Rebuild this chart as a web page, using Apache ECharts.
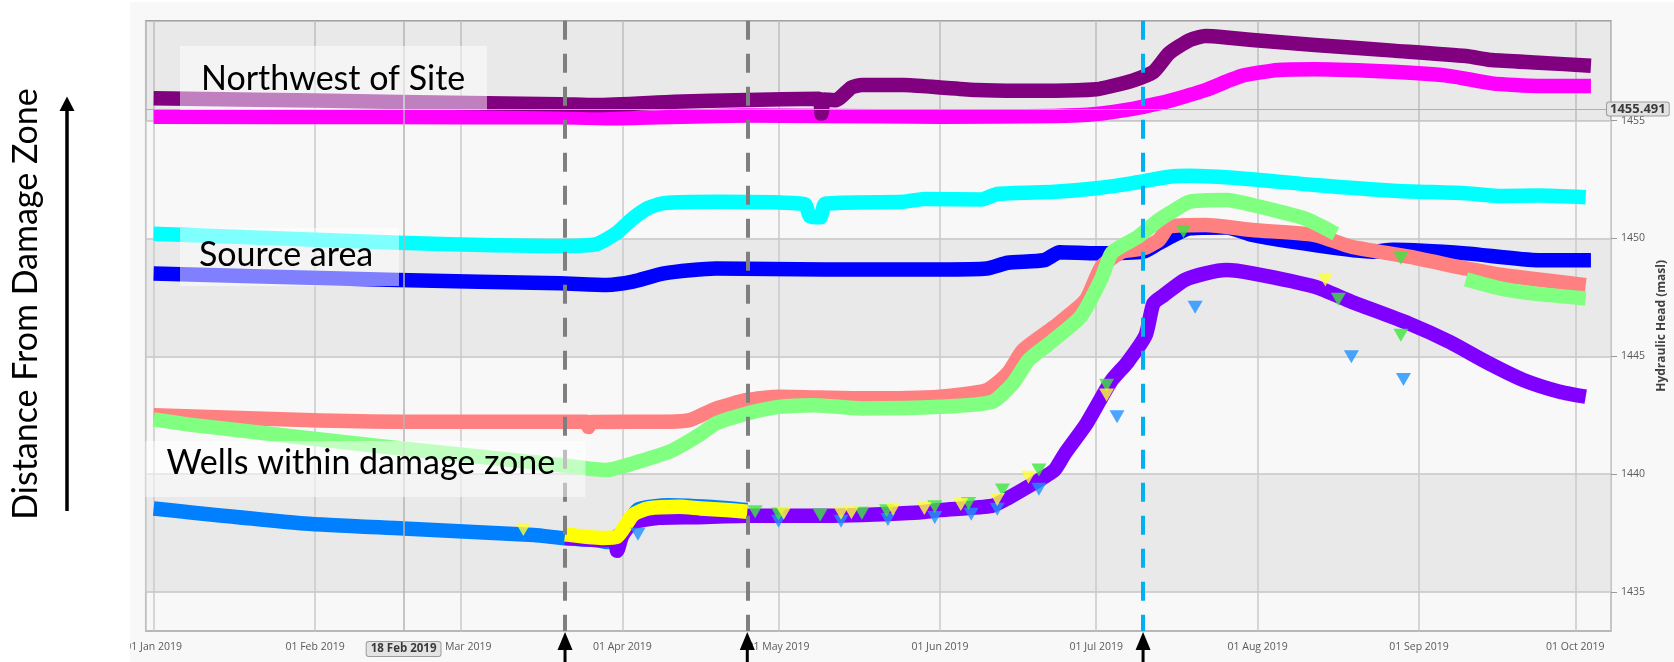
<!DOCTYPE html>
<html>
<head>
<meta charset="utf-8">
<script src="https://cdn.jsdelivr.net/npm/echarts@6/dist/echarts.min.js"></script>
<style>
  html, body { margin: 0; padding: 0; background: #ffffff; width: 1674px; height: 662px; overflow: hidden; }
  #side { position: absolute; left: 0; top: 0; width: 130px; height: 662px; }
  #main { position: absolute; left: 130px; top: 2px; width: 1544px; height: 660px; background: #f8f8f8; overflow: hidden; }
</style>
</head>
<body>
<div id="side"></div>
<div id="main"></div>
<script>
// ---- hydraulic head records (masl), 2019 ----
const nwUpper = [
  ['2019-01-01', 1455.95], ['2019-02-01', 1455.85], ['2019-03-06', 1455.74], ['2019-03-20', 1455.70],
  ['2019-03-27', 1455.66], ['2019-04-11', 1455.80], ['2019-04-25', 1455.88], ['2019-05-08 18:00', 1455.93],
  ['2019-05-09 06:00', 1455.30], ['2019-05-09 18:00', 1455.90], ['2019-05-12', 1455.87], ['2019-05-15', 1456.41],
  ['2019-05-17', 1456.51], ['2019-05-25', 1456.51], ['2019-06-01', 1456.41], ['2019-06-08', 1456.30],
  ['2019-06-16', 1456.27], ['2019-06-23', 1456.27], ['2019-07-01', 1456.33], ['2019-07-04', 1456.47],
  ['2019-07-08', 1456.70], ['2019-07-12', 1457.07], ['2019-07-15', 1457.86], ['2019-07-19', 1458.42],
  ['2019-07-22', 1458.59], ['2019-07-26', 1458.53], ['2019-07-31', 1458.42], ['2019-08-12', 1458.21],
  ['2019-08-27', 1457.97], ['2019-09-10', 1457.74], ['2019-09-15', 1457.57], ['2019-09-24', 1457.46],
  ['2019-10-04', 1457.33]
];
const nwLower = [
  ['2019-01-01', 1455.17], ['2019-02-15', 1455.15], ['2019-03-20', 1455.14], ['2019-03-31', 1455.10],
  ['2019-04-25', 1455.22], ['2019-05-09', 1455.20], ['2019-06-01', 1455.17], ['2019-06-23', 1455.20],
  ['2019-07-01', 1455.28], ['2019-07-08', 1455.50], ['2019-07-13', 1455.73], ['2019-07-16', 1455.90],
  ['2019-07-22', 1456.30], ['2019-07-29', 1456.90], ['2019-08-05', 1457.15], ['2019-08-12', 1457.18],
  ['2019-08-27', 1457.07], ['2019-09-07', 1456.89], ['2019-09-15', 1456.58], ['2019-09-24', 1456.47],
  ['2019-10-04', 1456.47]
];
const sourceUpper = [
  ['2019-01-01', 1450.20], ['2019-02-17', 1449.82], ['2019-03-20', 1449.68], ['2019-03-27', 1449.76],
  ['2019-03-31', 1450.25], ['2019-04-03', 1450.85], ['2019-04-06', 1451.30], ['2019-04-09', 1451.50],
  ['2019-04-19', 1451.56], ['2019-05-06', 1451.46], ['2019-05-07', 1450.95], ['2019-05-09', 1450.90],
  ['2019-05-10', 1451.48], ['2019-05-25', 1451.56], ['2019-05-29', 1451.68], ['2019-06-09', 1451.66],
  ['2019-06-12', 1451.89], ['2019-06-23', 1451.98], ['2019-07-01', 1452.13], ['2019-07-08', 1452.35],
  ['2019-07-15', 1452.62], ['2019-07-19', 1452.66], ['2019-07-29', 1452.55], ['2019-08-12', 1452.27],
  ['2019-08-27', 1452.03], ['2019-09-10', 1451.92], ['2019-09-17', 1451.80], ['2019-09-24', 1451.82],
  ['2019-10-03', 1451.75]
];
const sourceLower = [
  ['2019-01-01', 1448.52], ['2019-02-17', 1448.24], ['2019-03-20', 1448.10], ['2019-03-29', 1448.03],
  ['2019-04-03', 1448.17], ['2019-04-09', 1448.52], ['2019-04-19', 1448.73], ['2019-05-10', 1448.69],
  ['2019-06-01', 1448.69], ['2019-06-10', 1448.73], ['2019-06-14', 1448.97], ['2019-06-21', 1449.08],
  ['2019-06-24', 1449.42], ['2019-07-01', 1449.37], ['2019-07-10', 1449.44], ['2019-07-13', 1449.80],
  ['2019-07-19', 1450.43], ['2019-07-26', 1450.47], ['2019-07-31', 1450.15], ['2019-08-12', 1449.72],
  ['2019-08-23', 1449.44], ['2019-08-27', 1449.52], ['2019-09-10', 1449.37], ['2019-09-24', 1449.08],
  ['2019-10-04', 1449.08]
];
const damageSalmon = [
  ['2019-01-01', 1442.50], ['2019-01-30', 1442.30], ['2019-02-17', 1442.23], ['2019-03-20', 1442.23],
  ['2019-03-25', 1442.23], ['2019-03-25 12:00', 1442.00], ['2019-03-26', 1442.22], ['2019-04-10', 1442.23],
  ['2019-04-14', 1442.30], ['2019-04-19', 1442.79], ['2019-04-25', 1443.15], ['2019-05-01', 1443.29],
  ['2019-05-17', 1443.22], ['2019-06-01', 1443.29], ['2019-06-10', 1443.57], ['2019-06-14', 1444.28],
  ['2019-06-17', 1445.27], ['2019-06-23', 1446.26], ['2019-06-29', 1447.39], ['2019-07-02', 1448.80],
  ['2019-07-06', 1449.44], ['2019-07-10', 1449.58], ['2019-07-13', 1449.93], ['2019-07-15', 1450.50],
  ['2019-07-22', 1450.57], ['2019-07-31', 1450.36], ['2019-08-12', 1450.15], ['2019-08-19', 1449.65],
  ['2019-08-30', 1449.23], ['2019-09-10', 1448.73], ['2019-09-17', 1448.45], ['2019-10-03', 1448.02]
];
const damageGreen = [
  ['2019-01-01', 1442.33], ['2019-01-10', 1442.05], ['2019-02-14', 1441.18], ['2019-03-20', 1440.39],
  ['2019-03-29', 1440.18], ['2019-04-03', 1440.46], ['2019-04-10', 1440.95], ['2019-04-13', 1441.30],
  ['2019-04-16', 1441.70], ['2019-04-19', 1442.16], ['2019-04-25', 1442.58], ['2019-05-01', 1442.86],
  ['2019-05-08', 1442.93], ['2019-05-17', 1442.79], ['2019-06-01', 1442.86], ['2019-06-11', 1443.07],
  ['2019-06-15', 1443.85], ['2019-06-18', 1444.84], ['2019-06-22', 1445.55], ['2019-06-28', 1446.68],
  ['2019-07-02', 1448.30], ['2019-07-04', 1449.40], ['2019-07-09', 1450.07], ['2019-07-13', 1450.78],
  ['2019-07-16', 1451.20], ['2019-07-19', 1451.56], ['2019-07-26', 1451.63], ['2019-07-31', 1451.42],
  ['2019-08-10', 1450.85], ['2019-08-16', 1450.20], ['2019-08-17', null],
  ['2019-09-10', 1448.27], ['2019-09-17', 1447.86], ['2019-09-24', 1447.64], ['2019-10-03', 1447.46]
];
const damageBlue = [
  ['2019-01-01', 1438.55], ['2019-01-30', 1437.91], ['2019-02-18', 1437.70], ['2019-03-15', 1437.42],
  ['2019-03-21', 1437.28], ['2019-03-27', 1437.21], ['2019-03-29', 1437.13], ['2019-04-01', 1437.55],
  ['2019-04-04', 1438.50], ['2019-04-10', 1438.68], ['2019-04-20', 1438.58], ['2019-04-25', 1438.48]
];
const damageYellow = [
  ['2019-03-21', 1437.45], ['2019-03-28', 1437.30], ['2019-03-31', 1437.35], ['2019-04-03', 1438.27],
  ['2019-04-06', 1438.55], ['2019-04-12', 1438.62], ['2019-04-16', 1438.55], ['2019-04-21', 1438.48],
  ['2019-04-25', 1438.41]
];
const damageViolet = [
  ['2019-03-21', 1437.30], ['2019-03-28', 1437.20], ['2019-03-30 12:00', 1437.25], ['2019-03-31', 1436.75],
  ['2019-04-01', 1437.40], ['2019-04-03', 1437.95], ['2019-04-08', 1438.15], ['2019-04-15', 1438.18],
  ['2019-04-25', 1438.24], ['2019-05-10', 1438.24], ['2019-05-28', 1438.38], ['2019-06-01', 1438.48],
  ['2019-06-11', 1438.66], ['2019-06-14', 1438.98], ['2019-06-20', 1439.75], ['2019-06-23', 1440.18],
  ['2019-06-25', 1440.88], ['2019-06-29', 1442.10], ['2019-07-01', 1442.86], ['2019-07-04', 1443.99],
  ['2019-07-07', 1444.75], ['2019-07-10 12:00', 1445.90], ['2019-07-12', 1447.25], ['2019-07-14', 1447.60],
  ['2019-07-18', 1448.24], ['2019-07-22', 1448.52], ['2019-07-26', 1448.66], ['2019-07-31', 1448.52],
  ['2019-08-12', 1447.95], ['2019-08-19', 1447.32], ['2019-08-30', 1446.40], ['2019-09-07', 1445.60],
  ['2019-09-14', 1444.75], ['2019-09-21', 1444.00], ['2019-09-28', 1443.50], ['2019-10-03', 1443.29]
];
// manual water-level readings
const manualGreen = [
  ['2019-04-26 12:00', 1438.41], ['2019-05-01', 1438.31], ['2019-05-09', 1438.27], ['2019-05-17', 1438.34],
  ['2019-05-21 18:00', 1438.45], ['2019-05-31', 1438.62], ['2019-06-06 12:00', 1438.76], ['2019-06-13', 1439.33],
  ['2019-06-20', 1440.18], ['2019-07-03', 1443.78], ['2019-07-17 18:00', 1450.29], ['2019-08-16 12:00', 1447.42],
  ['2019-08-28 12:00', 1449.16], ['2019-08-28 12:00', 1445.90]
];
const manualYellow = [
  ['2019-03-13', 1437.66], ['2019-05-02', 1438.34], ['2019-05-13', 1438.34], ['2019-05-15', 1438.37],
  ['2019-05-23', 1438.51], ['2019-05-29', 1438.55], ['2019-06-05', 1438.72], ['2019-06-12', 1438.93],
  ['2019-06-18', 1439.87], ['2019-07-03', 1443.36], ['2019-08-14', 1448.24]
];
const manualBlue = [
  ['2019-04-04', 1437.45], ['2019-05-01', 1438.01], ['2019-05-13', 1438.01], ['2019-05-22', 1438.08],
  ['2019-05-31', 1438.17], ['2019-06-07', 1438.30], ['2019-06-12', 1438.51], ['2019-06-20', 1439.36],
  ['2019-07-05', 1442.44], ['2019-07-20', 1447.08], ['2019-08-19', 1444.98], ['2019-08-29', 1444.02]
];

// axes, events and annotations
const headTicks = [1435, 1440, 1445, 1450, 1455];
const xRange = ['2018-12-30 11:30', '2019-10-07 20:30'];
const yRange = [1433.35, 1459.24];
const monthNames = ['Jan', 'Feb', 'Mar', 'Apr', 'May', 'Jun', 'Jul', 'Aug', 'Sep', 'Oct', 'Nov', 'Dec'];
const eventDates = ['2019-03-21', '2019-04-25', '2019-07-10'];
const cursorDate = '2019-02-18';
const cursorDateLabel = '18 Feb 2019';
const cursorHead = 1455.491;
const zoneLabels = ['Northwest of Site', 'Source area', 'Wells within damage zone'];
const sideLabel = 'Distance From Damage Zone';

const eventColors = ['#7f7f7f', '#7f7f7f', '#00b0f0'];

function fmtDate(v) {
  const d = new Date(v);
  const dd = String(d.getDate()).padStart(2, '0');
  return dd + ' ' + monthNames[d.getMonth()] + ' ' + d.getFullYear();
}

function lineSeries(name, data, color, z) {
  return {
    name: name, type: 'line', data: data, z: z,
    showSymbol: false, symbol: 'none', connectNulls: false, silent: true,
    smooth: 0.2,
    lineStyle: { color: color, width: 14.5, cap: 'butt', join: 'round' },
    itemStyle: { color: color }
  };
}
function markerSeries(name, data, color, z) {
  return {
    name: name, type: 'scatter', data: data, z: z, silent: true,
    symbol: 'triangle', symbolRotate: 180, symbolSize: [15, 13],
    itemStyle: { color: color }
  };
}

const labelFont = '"Open Sans", "Liberation Sans", sans-serif';

const option = {
  animation: false,
  backgroundColor: '#f8f8f8',
  grid: {
    left: 15.7, right: 63, top: 18.7, bottom: 31,
    containLabel: false, outerBoundsMode: 'none',
    show: true, borderColor: '#a3a3a3', borderWidth: 1.5, backgroundColor: 'transparent'
  },
  xAxis: {
    type: 'time',
    min: xRange[0], max: xRange[1],
    splitNumber: 10,
    axisLine: { show: false },
    axisTick: { show: false },
    axisLabel: {
      formatter: fmtDate, color: '#5a5a5a', fontSize: 10.5, fontFamily: labelFont,
      margin: 11, showMinLabel: false, showMaxLabel: false, hideOverlap: false
    },
    splitLine: { show: true, lineStyle: { color: '#cacaca', width: 1.5 } }
  },
  yAxis: {
    type: 'value', position: 'right',
    min: yRange[0], max: yRange[1],
    minInterval: 5, maxInterval: 5, splitNumber: 5,
    name: 'Hydraulic Head (masl)', nameLocation: 'middle', nameRotate: 90, nameGap: 35,
    nameTextStyle: { color: '#404040', fontSize: 12, fontWeight: 'bold', fontFamily: labelFont },
    axisLine: { show: false },
    axisTick: { show: true, length: 6, customValues: headTicks, lineStyle: { color: '#9a9a9a', width: 1 } },
    axisLabel: {
      customValues: headTicks,
      formatter: function (v) { return headTicks.indexOf(Math.round(v * 1000) / 1000) >= 0 ? String(v) : ''; },
      color: '#5a5a5a', fontSize: 10.5, fontFamily: labelFont, margin: 10
    },
    splitLine: { show: true, lineStyle: { color: '#c6c6c6', width: 1.5 } },
    splitArea: { show: true, areaStyle: { color: ['#e9e9e9', '#f8f8f8'] } }
  },
  series: [
    {
      // shading of the uppermost band, above the last labelled tick
      name: 'top band', type: 'line', data: [], silent: true, z: 1,
      markArea: {
        silent: true, z: 1,
        itemStyle: { color: 'rgba(0,0,0,0.06)' },
        data: [[{ yAxis: headTicks[headTicks.length - 1] }, { yAxis: yRange[1] }]]
      }
    },
    lineSeries('NW-2', nwLower, '#ff00ff', 2),
    lineSeries('NW-1', nwUpper, '#800080', 2),
    lineSeries('SA-1', sourceUpper, '#00ffff', 2),
    lineSeries('SA-2', sourceLower, '#0000ff', 2),
    lineSeries('DZ-1', damageSalmon, '#ff8080', 2),
    lineSeries('DZ-2', damageGreen, '#80ff80', 2),
    lineSeries('DZ-3', damageBlue, '#0080ff', 2),
    lineSeries('DZ-4', damageViolet, '#8000ff', 2),
    lineSeries('DZ-5', damageYellow, '#ffff00', 2),
    markerSeries('Manual DZ-3', manualBlue, '#1e90ff', 3),
    markerSeries('Manual DZ-2', manualGreen, '#3ce63c', 3),
    markerSeries('Manual DZ-5', manualYellow, '#ffff33', 3),
    {
      name: 'guides', type: 'line', data: [], silent: true, z: 4,
      markLine: {
        silent: true, animation: false, symbol: ['none', 'none'],
        data: [
          {
            xAxis: cursorDate,
            lineStyle: { color: '#b5b5b5', width: 1.5, type: 'solid' },
            label: {
              show: true, position: 'start', distance: 11, formatter: cursorDateLabel,
              fontSize: 11.5, fontWeight: 'bold', fontFamily: labelFont, color: '#3a3a3a',
              backgroundColor: '#e3e3e3', borderColor: '#9c9c9c', borderWidth: 1, borderRadius: 2,
              padding: [1, 4, 1, 4]
            }
          },
          {
            yAxis: cursorHead,
            lineStyle: { color: '#b0b0b0', width: 1.2, type: 'solid' },
            label: {
              show: true, position: 'end', distance: -4, formatter: String(cursorHead),
              fontSize: 13, fontWeight: 'bold', fontFamily: labelFont, color: '#3a3a3a',
              backgroundColor: '#e3e3e3', borderColor: '#9c9c9c', borderWidth: 1, borderRadius: 2,
              padding: [0, 3, 0, 3]
            }
          }
        ].concat(eventDates.map(function (d, i) {
          return [
            { coord: [d, yRange[1]], lineStyle: { color: eventColors[i], width: 4, type: [19, 14] }, label: { show: false } },
            { coord: [d, yRange[0]] }
          ];
        }))
      }
    }
  ]
};

const chart = echarts.init(document.getElementById('main'), null, { renderer: 'canvas' });
chart.setOption(option);

// annotation boxes and arrows beneath the event lines
const boxes = [
  { x: 50, y: 44, w: 307, h: 64, tx: 71, ty: 77 },
  { x: 50, y: 226, w: 219, h: 58, tx: 69, ty: 253 },
  { x: 15.5, y: 439, w: 440, h: 56, tx: 36.5, ty: 461 }
];
const graphics = [];
boxes.forEach(function (b, i) {
  graphics.push({
    type: 'rect', z: 50, silent: true,
    shape: { x: b.x, y: b.y, width: b.w, height: b.h },
    style: { fill: 'rgba(255,255,255,0.5)' }
  });
  graphics.push({
    type: 'text', z: 51, silent: true, x: b.tx, y: b.ty,
    style: {
      text: zoneLabels[i], fill: '#000000', font: '34px Lato, "Open Sans", sans-serif',
      align: 'left', verticalAlign: 'middle', textAlign: 'left', textVerticalAlign: 'middle'
    }
  });
});
eventDates.forEach(function (d) {
  const p = chart.convertToPixel({ xAxisIndex: 0, yAxisIndex: 0 }, [d, yRange[0]]);
  const px = p[0], py = p[1];
  graphics.push({
    type: 'rect', z: 60, silent: true,
    shape: { x: px - 1.5, y: py + 12, width: 3, height: 660 - py },
    style: { fill: '#000000' }
  });
  graphics.push({
    type: 'polygon', z: 60, silent: true,
    shape: { points: [[px, py + 1], [px - 7.5, py + 19], [px + 7.5, py + 19]] },
    style: { fill: '#000000' }
  });
});
chart.setOption({ graphic: graphics });

// left-hand note: distance from the damage zone increases upward
const side = echarts.init(document.getElementById('side'), null, { renderer: 'canvas' });
side.setOption({
  animation: false,
  graphic: [
    {
      type: 'text', x: 26, y: 304, rotation: Math.PI / 2, silent: true,
      style: {
        text: sideLabel, fill: '#000000', font: '34px Lato, "Open Sans", sans-serif',
        align: 'center', verticalAlign: 'middle', textAlign: 'center', textVerticalAlign: 'middle'
      }
    },
    { type: 'rect', silent: true, shape: { x: 65.25, y: 108, width: 3.5, height: 403 }, style: { fill: '#000000' } },
    { type: 'polygon', silent: true, shape: { points: [[67, 96.5], [59.5, 111], [74.5, 111]] }, style: { fill: '#000000' } }
  ]
});
</script>
</body>
</html>
